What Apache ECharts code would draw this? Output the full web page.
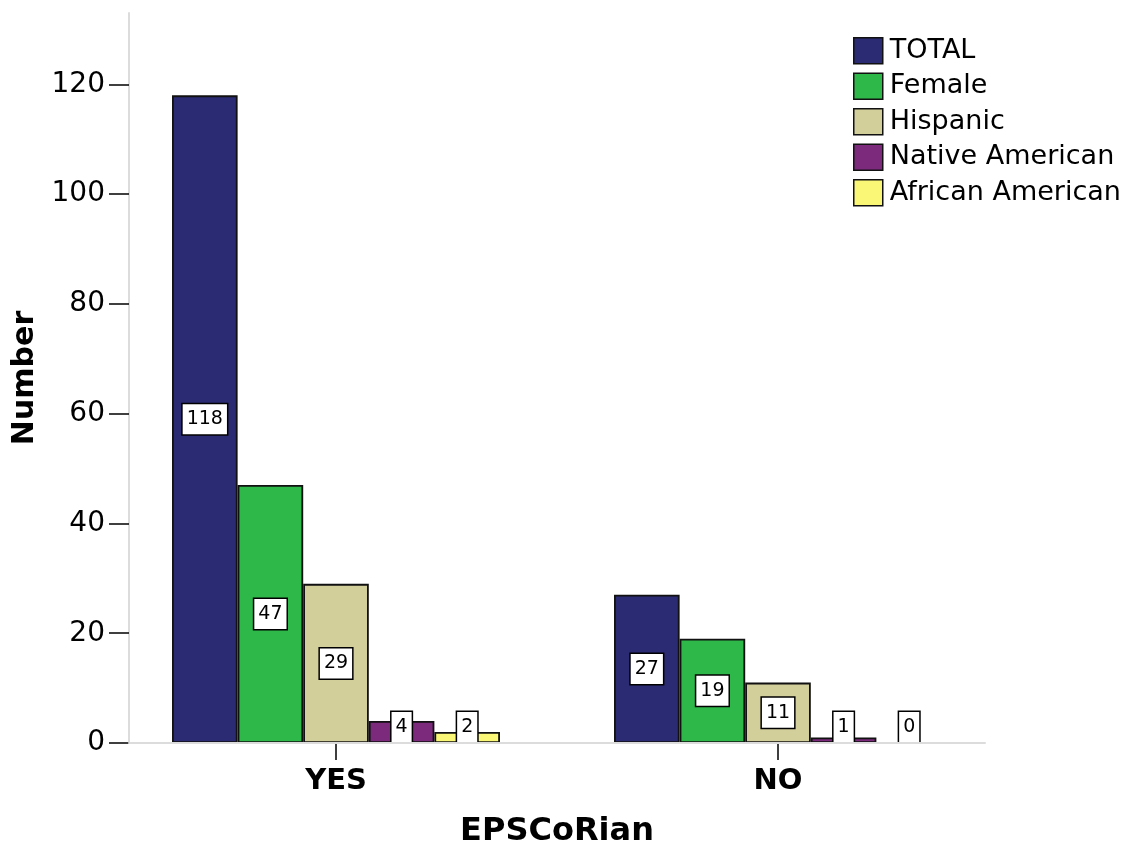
<!DOCTYPE html>
<html>
<head>
<meta charset="utf-8">
<script src="https://cdn.jsdelivr.net/npm/echarts@6/dist/echarts.min.js"></script>
<style>
  html, body { margin: 0; padding: 0; background: #fff; }
  #chart { width: 1129px; height: 846px; }
</style>
</head>
<body>
<div id="chart"></div>
<script>
// Groups along the x axis
const categories = ['YES', 'NO'];

// Counts per group
const seriesNames = ['TOTAL', 'Female', 'Hispanic', 'Native American', 'African American'];
const totalValues = [118, 27];
const femaleValues = [47, 19];
const hispanicValues = [29, 11];
const nativeAmericanValues = [4, 1];
const africanAmericanValues = [2, 0];

// Y axis tick values
const yTicks = [0, 20, 40, 60, 80, 100, 120];
const yMax = 133;

const seriesValues = [totalValues, femaleValues, hispanicValues, nativeAmericanValues, africanAmericanValues];
const colors = ['#2b2b73', '#2fb84a', '#d3cf9b', '#7b2a7c', '#fbf776'];

const FONT = 'DejaVu Sans';

const labelBox = {
  show: true,
  color: '#000',
  fontFamily: FONT,
  fontSize: 19,
  lineHeight: 21,
  backgroundColor: '#fff',
  borderColor: '#000',
  borderWidth: 1.5,
  padding: [5, 4, 4, 4]
};

// Short bars cannot hold the value box, so it sits on the baseline instead
function dataWithLabels(values) {
  return values.map(v => ({
    value: v,
    itemStyle: v === 0 ? { borderWidth: 0 } : undefined,
    label: v < 7 ? { position: 'insideBottom', distance: 1 } : { position: 'inside' }
  }));
}

const series = seriesNames.map((name, i) => ({
  name: name,
  type: 'bar',
  xAxisIndex: 0,
  yAxisIndex: 0,
  barGap: 0,
  barCategoryGap: '25.8%',
  itemStyle: { color: colors[i], borderColor: '#111', borderWidth: 1.8 },
  label: labelBox,
  emphasis: { disabled: true },
  data: dataWithLabels(seriesValues[i])
}));

const chart = echarts.init(document.getElementById('chart'), null, { renderer: 'canvas' });
chart.setOption({
  backgroundColor: '#fff',
  animation: false,
  legend: {
    orient: 'vertical',
    left: 853,
    top: 37,
    padding: 0,
    itemWidth: 29,
    itemHeight: 26,
    itemGap: 8,
    icon: 'rect',
    selectedMode: false,
    textStyle: { fontFamily: FONT, fontSize: 27, color: '#000', padding: [0, 0, 0, 2] },
    itemStyle: { borderColor: '#111', borderWidth: 1.5 },
    data: seriesNames
  },
  grid: [
    // bars
    { left: 115, right: 130, top: 13, bottom: 103, outerBoundsMode: 'none' },
    // frame axes
    { left: 129, right: 144, top: 13, bottom: 103, outerBoundsMode: 'none' }
  ],
  xAxis: [
    {
      type: 'category',
      gridIndex: 0,
      data: categories,
      axisLine: { show: false },
      axisTick: { show: true, alignWithLabel: true, length: 17, lineStyle: { color: '#000', width: 1.5 } },
      axisLabel: { color: '#000', fontFamily: FONT, fontWeight: 'bold', fontSize: 29, margin: 24 },
      name: 'EPSCoRian',
      nameLocation: 'middle',
      nameGap: 73,
      nameTextStyle: { color: '#000', fontFamily: FONT, fontWeight: 'bold', fontSize: 32 }
    },
    {
      type: 'value',
      gridIndex: 1,
      min: 0,
      max: 1,
      z: 5,
      axisLine: { show: true, onZero: false, lineStyle: { color: '#dcdcdc', width: 2 } },
      axisTick: { show: false },
      axisLabel: { show: false },
      splitLine: { show: false }
    }
  ],
  yAxis: [
    {
      type: 'value',
      gridIndex: 0,
      min: 0,
      max: yMax,
      show: false
    },
    {
      type: 'value',
      gridIndex: 1,
      min: 0,
      max: yMax,
      axisLine: { show: true, lineStyle: { color: '#dcdcdc', width: 2 } },
      axisTick: { show: true, length: 20, customValues: yTicks, lineStyle: { color: '#000', width: 1.5 } },
      axisLabel: { color: '#000', fontFamily: FONT, fontSize: 28, margin: 24, customValues: yTicks },
      splitLine: { show: false },
      name: 'Number',
      nameLocation: 'middle',
      nameGap: 84,
      nameTextStyle: { color: '#000', fontFamily: FONT, fontWeight: 'bold', fontSize: 30 }
    }
  ],
  series: series
});
</script>
</body>
</html>
